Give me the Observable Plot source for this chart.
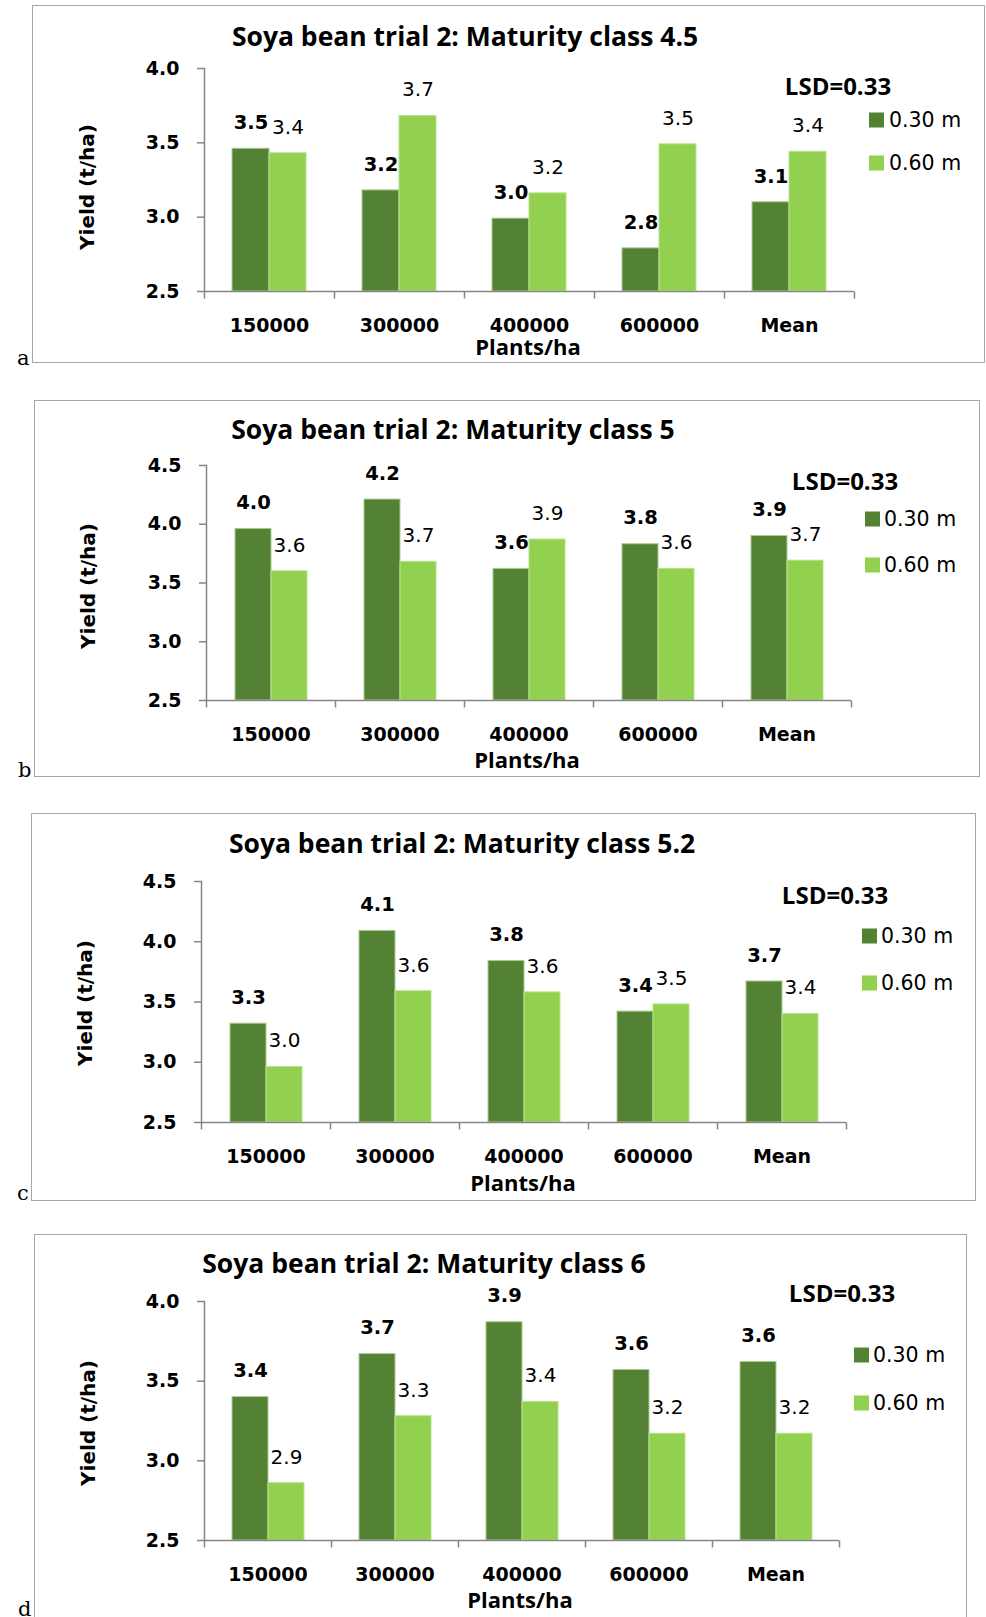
<!DOCTYPE html>
<html><head><meta charset="utf-8">
<script src="https://cdn.jsdelivr.net/npm/d3@7"></script>
<script src="https://cdn.jsdelivr.net/npm/@observablehq/plot@0.6"></script>
<style>
body{margin:0;background:#fff;}
#page{position:relative;width:986px;height:1617px;overflow:hidden;font-family:"Open Sans",sans-serif;color:#000;}
.box{position:absolute;border:1px solid #a6a6a6;box-sizing:border-box;}
.abs{position:absolute;white-space:nowrap;line-height:1;}
.c{transform:translate(-50%,-50%);}
.title{font-weight:700;font-size:26.5px;}
.lsd{font-weight:700;font-size:24px;}
.ylab{font-family:"DejaVu Sans",sans-serif;font-weight:700;font-size:20px;transform:translate(-50%,-50%) rotate(-90deg);}
.plants{font-weight:700;font-size:22px;}
.leg{font-family:"DejaVu Sans",sans-serif;font-size:20.5px;transform:translateY(-50%);}
.sw{position:absolute;width:15px;height:15px;transform:translateY(-50%);}
.letter{font-family:"DejaVu Serif",serif;font-size:21px;transform:translateY(-50%);}
svg{position:absolute;left:0;}
</style>
</head><body><div id="page"></div>
<script>
// ---- data ----
const categories = ["150000", "300000", "400000", "600000", "Mean"];
const series = ["0.30 m", "0.60 m"];
const seriesColors = ["#548235", "#92d050"];
const seriesOutline = ["#a9c98f", "#b9e28c"];
const titles = [
  "Soya bean trial 2: Maturity class 4.5",
  "Soya bean trial 2: Maturity class 5",
  "Soya bean trial 2: Maturity class 5.2",
  "Soya bean trial 2: Maturity class 6"
];
const panelLetters = ["a", "b", "c", "d"];
const yAxisTitle = "Yield (t/ha)";
const xAxisTitle = "Plants/ha";
const lsdText = "LSD=0.33";

const mc45_030 = [3.46, 3.18, 2.99, 2.79, 3.10];
const mc45_060 = [3.43, 3.68, 3.16, 3.49, 3.44];
const mc5_030  = [3.96, 4.21, 3.62, 3.83, 3.90];
const mc5_060  = [3.60, 3.68, 3.87, 3.62, 3.69];
const mc52_030 = [3.32, 4.09, 3.84, 3.42, 3.67];
const mc52_060 = [2.96, 3.59, 3.58, 3.48, 3.40];
const mc6_030  = [3.40, 3.67, 3.87, 3.57, 3.62];
const mc6_060  = [2.86, 3.28, 3.37, 3.17, 3.17];

const yTicksA = [2.5, 3.0, 3.5, 4.0];
const yTicksB = [2.5, 3.0, 3.5, 4.0, 4.5];
const yTicksC = [2.5, 3.0, 3.5, 4.0, 4.5];
const yTicksD = [2.5, 3.0, 3.5, 4.0];

// ---- layout ----
const layouts = [
  {v030: mc45_030, v060: mc45_060, yTicks: yTicksA, box:[32,5,985,363], letter:[17,358], titleXY:[465,36],
   axisX:202, xRight:856, plotTop:68, plotBottom:291, svgTop:40, yLab:[87,187], plants:[528,346], lsd:[838,86], legSw:869, legTx:889, legY:[120,163]},
  {v030: mc5_030, v060: mc5_060, yTicks: yTicksB, box:[34,400,980,777], letter:[18,770], titleXY:[453,429],
   axisX:204, xRight:852, plotTop:465, plotBottom:700, svgTop:437, yLab:[88,586], plants:[527,759], lsd:[845,481], legSw:865, legTx:884, legY:[519,565]},
  {v030: mc52_030, v060: mc52_060, yTicks: yTicksC, box:[31,813,976,1201], letter:[17,1193], titleXY:[462,843],
   axisX:199, xRight:848, plotTop:881, plotBottom:1122, svgTop:853, yLab:[85,1003], plants:[523,1182], lsd:[835,895], legSw:862, legTx:881, legY:[936,983]},
  {v030: mc6_030, v060: mc6_060, yTicks: yTicksD, box:[34,1234,967,1625], letter:[18,1609], titleXY:[424,1263],
   axisX:202, xRight:841, plotTop:1301, plotBottom:1540, svgTop:1261, yLab:[88,1423], plants:[520,1599], lsd:[842,1293], legSw:854, legTx:873, legY:[1355,1403]}
];

const page = document.getElementById("page");
function el(cls, text, x, y, extra) {
  const d = document.createElement("div");
  d.className = "abs " + cls;
  d.textContent = text;
  d.style.left = x + "px";
  d.style.top = y + "px";
  if (extra) Object.assign(d.style, extra);
  page.appendChild(d);
  return d;
}

const axisColor = "#868686";
const numFont = "'DejaVu Sans', sans-serif";
const tickSymbol = {draw(ctx) { ctx.moveTo(0, 0); ctx.lineTo(0, 7); }};

layouts.forEach((p, k) => {
  const box = document.createElement("div");
  box.className = "box";
  box.style.left = p.box[0] + "px"; box.style.top = p.box[1] + "px";
  box.style.width = (p.box[2] - p.box[0]) + "px"; box.style.height = (p.box[3] - p.box[1]) + "px";
  page.appendChild(box);

  const rows = [];
  categories.forEach((c, i) => {
    rows.push({cat: c, series: series[0], value: p.v030[i]});
    rows.push({cat: c, series: series[1], value: p.v060[i]});
  });
  const rows030 = rows.filter(r => r.series === series[0]);
  const rows060 = rows.filter(r => r.series === series[1]);
  const yMin = p.yTicks[0], yMax = p.yTicks[p.yTicks.length - 1];
  const lastCat = categories[categories.length - 1];
  const marginBottom = 60;
  const chart = Plot.plot({
    width: 986,
    height: p.plotBottom - p.svgTop + marginBottom,
    marginLeft: p.axisX,
    marginRight: 986 - p.xRight,
    marginTop: p.plotTop - p.svgTop,
    marginBottom,
    style: {background: "none", overflow: "visible", fontFamily: numFont, color: "#000"},
    fx: {domain: categories, padding: 0, label: null},
    x: {domain: series, paddingInner: 0, paddingOuter: 0.75, axis: null},
    y: {domain: [yMin, yMax], label: null},
    color: {domain: series, range: seriesColors},
    marks: [
      Plot.barY(rows030, {fx: "cat", x: "series", y1: yMin, y2: "value", fill: "series", stroke: seriesOutline[0], strokeWidth: 1}),
      Plot.barY(rows060, {fx: "cat", x: "series", y1: yMin, y2: "value", fill: "series", stroke: seriesOutline[1], strokeWidth: 1}),
      Plot.ruleY([yMin], {stroke: axisColor, strokeWidth: 1.5}),
      Plot.frame({anchor: "left", stroke: axisColor, strokeWidth: 1.5, facetAnchor: "left"}),
      Plot.dot(categories, {fx: d => d, frameAnchor: "bottom-left", symbol: tickSymbol, stroke: axisColor, strokeWidth: 1.5, fill: "none"}),
      Plot.dot([lastCat], {fx: d => d, frameAnchor: "bottom-right", symbol: tickSymbol, stroke: axisColor, strokeWidth: 1.5, fill: "none"}),
      Plot.axisY({ticks: p.yTicks, tickSize: 7, tickPadding: 18, tickFormat: d => d.toFixed(1), fontSize: 19, fontWeight: 700, stroke: axisColor, strokeWidth: 1.5, label: null}),
      Plot.axisFx({anchor: "bottom", tickSize: 0, tickPadding: 27, fontSize: 19, fontWeight: 700, label: null}),
      Plot.text(rows030, {fx: "cat", x: "series", y: "value", text: d => d.value.toFixed(1), dy: -26, fontSize: 19.5, fontWeight: 700}),
      Plot.text(rows060, {fx: "cat", x: "series", y: "value", text: d => d.value.toFixed(1), dy: -26, fontSize: 20})
    ]
  });
  chart.style.top = p.svgTop + "px";
  page.appendChild(chart);

  el("title c", titles[k], p.titleXY[0], p.titleXY[1]);
  el("ylab", yAxisTitle, p.yLab[0], p.yLab[1]);
  el("plants c", xAxisTitle, p.plants[0], p.plants[1]);
  el("lsd c", lsdText, p.lsd[0], p.lsd[1]);
  el("letter", panelLetters[k], p.letter[0], p.letter[1]);
  series.forEach((s, j) => {
    const sw = document.createElement("div");
    sw.className = "sw";
    sw.style.left = p.legSw + "px"; sw.style.top = p.legY[j] + "px";
    sw.style.background = seriesColors[j];
    page.appendChild(sw);
    el("leg", s, p.legTx, p.legY[j]);
  });
});
</script>
</body></html>
